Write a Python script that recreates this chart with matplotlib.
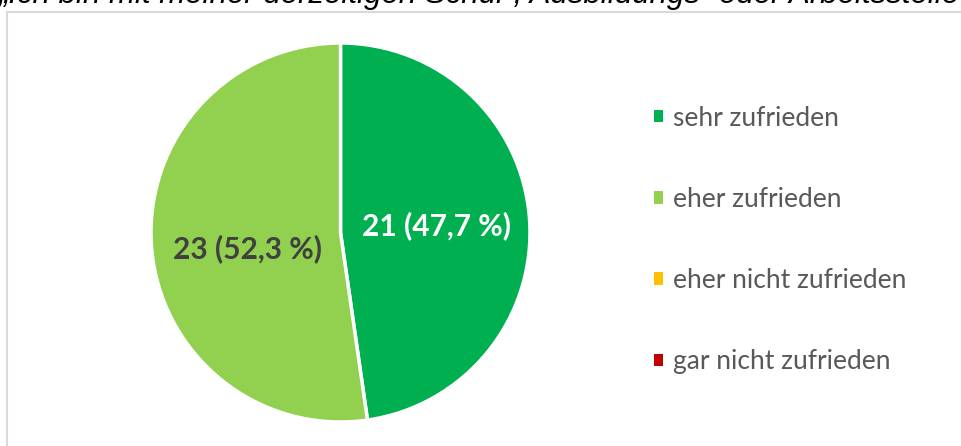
import matplotlib.pyplot as plt
from matplotlib.lines import Line2D
from matplotlib.patches import Patch

# Daten
kategorien = ['sehr zufrieden', 'eher zufrieden', 'eher nicht zufrieden', 'gar nicht zufrieden']
anzahl = [21, 23, 0, 0]
farben = ['#00B050', '#92D050', '#FFC000', '#C00000']
label_farben = ['white', '#404040']
titel = '„Ich bin mit meiner derzeitigen Schul-, Ausbildungs- oder Arbeitsstelle zufrieden.“'

gesamt = sum(anzahl)
werte = [a for a in anzahl if a > 0]
farben_pie = [f for a, f in zip(anzahl, farben) if a > 0]

fig = plt.figure(figsize=(9.62, 4.46), dpi=100)

# Rahmen des Diagrammbereichs (rechts und unten abgeschnitten)
y_oben = 1 - 11.5 / 446
x_links = 6.5 / 962
fig.lines.append(Line2D([x_links, 1.1], [y_oben, y_oben], transform=fig.transFigure,
                        color='#d9d9d9', linewidth=1.5, zorder=2))
fig.lines.append(Line2D([x_links, x_links], [-0.1, y_oben], transform=fig.transFigure,
                        color='#d9d9d9', linewidth=1.5, zorder=2))

# Titel (oben abgeschnitten)
fig.text(-2 / 962, 1 - 3.5 / 446, titel, fontsize=22.5, style='italic',
         family='Liberation Sans', color='black', ha='left', va='baseline', zorder=1)

ax = fig.add_axes([151 / 962, (446 - 422) / 446, 379 / 962, 379 / 446])


def fmt(pct):
    n = round(pct * gesamt / 100)
    return f'{n} ({pct:.1f} %)'.replace('.', ',')


wedges, texts, autotexts = ax.pie(werte, colors=farben_pie, startangle=90,
                                  counterclock=False, autopct=fmt, pctdistance=0.51,
                                  wedgeprops=dict(edgecolor='white', linewidth=2.5))
for t, c in zip(autotexts, label_farben):
    t.set_color(c)
    t.set_fontsize(21.5)
    t.set_fontweight('bold')
    t.set_family('Lato')
# Beschriftung des linken Segments etwas tiefer, wie im Original
x, y = autotexts[1].get_position()
autotexts[1].set_position((x + 0.02, y - 0.05))
ax.set_xlim(-1, 1)
ax.set_ylim(-1, 1)
ax.set_aspect('equal')

handles = [Patch(facecolor=f, edgecolor='none') for f in farben]
leg = fig.legend(handles, kategorien, loc='center left', bbox_to_anchor=(641 / 962, 1 - 240 / 446),
                 frameon=False, handlelength=0.35, handleheight=0.35, handletextpad=0.35,
                 labelspacing=2.13, borderpad=0, prop=dict(family='Lato', size=19))
for t in leg.get_texts():
    t.set_color('#595959')

fig.savefig('out.png', dpi=100)
